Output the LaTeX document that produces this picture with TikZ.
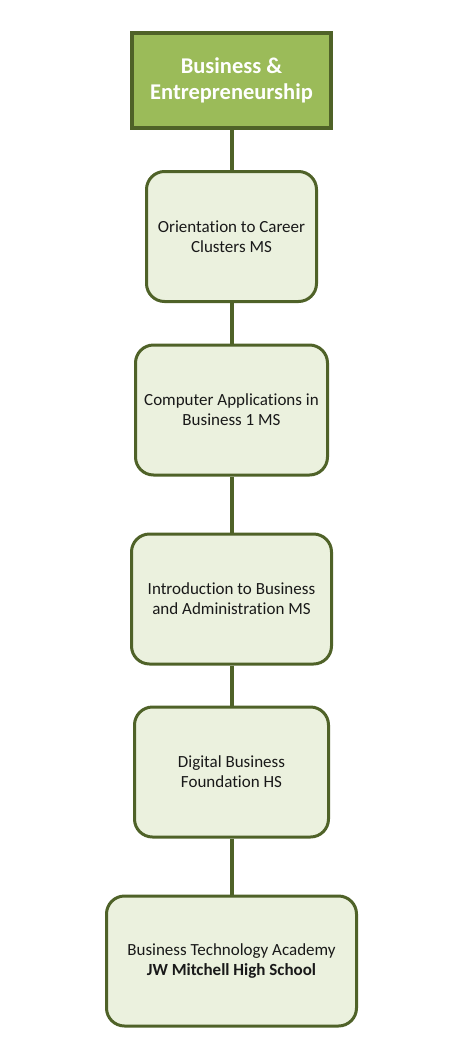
\documentclass[tikz,border=0pt]{standalone}
\usepackage{fontspec}
\setmainfont{Carlito}[Ligatures=NoCommon]
\usetikzlibrary{positioning}
\definecolor{olivedark}{HTML}{4F6228}
\definecolor{olivemid}{HTML}{9BBB59}
\definecolor{olivelight}{HTML}{EBF1DE}
\tikzset{
	titlebox/.style={draw=olivedark, line width=4pt, fill=olivemid, text=white, font=\fontsize{22.5}{26}\selectfont\bfseries, align=center, inner sep=0pt},
	coursebox/.style={draw=olivedark, line width=3pt, fill=olivelight, rounded corners=18pt, text=black!90, font=\fontsize{17}{20}\selectfont, align=center, inner sep=0pt, minimum height=130pt},
	link/.style={draw=olivedark, line width=4pt}
}
\begin{document}
\begin{tikzpicture}[x=1pt,y=-1pt]
	\useasboundingbox (0,0) rectangle (460,1039);
	
	% Title of the pathway
	\node[titlebox, minimum width=199pt, minimum height=95pt] (title) at (231.5,80.5) {Business \&\\Entrepreneurship};
	
	% Courses, top to bottom
	\node[coursebox, minimum width=170pt] (orient) at (231.5,236.5) {Orientation to Career\\Clusters MS};
	\node[coursebox, minimum width=192pt] (compapp) at (231.5,410) {Computer Applications in\\Business 1 MS};
	\node[coursebox, minimum width=200pt] (introbus) at (231.5,599) {Introduction to Business\\and Administration MS};
	\node[coursebox, minimum width=194pt] (digital) at (231.5,772) {Digital Business\\Foundation HS};
	\node[coursebox, minimum width=250pt] (academy) at (231.5,961) {Business Technology Academy\\\textbf{JW Mitchell High School}};
	
	% Connect them
	\draw[link] (title) -- (orient);
	\draw[link] (orient) -- (compapp);
	\draw[link] (compapp) -- (introbus);
	\draw[link] (introbus) -- (digital);
	\draw[link] (digital) -- (academy);
	
\end{tikzpicture}
\end{document}
